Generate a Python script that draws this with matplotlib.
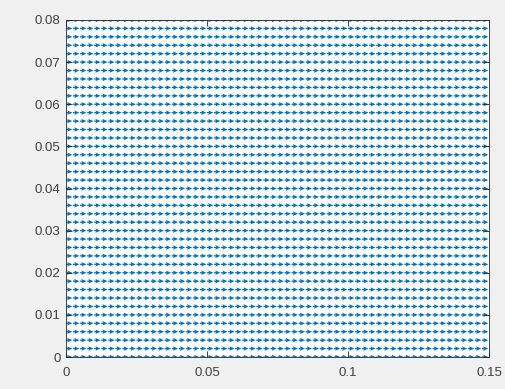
import matplotlib
matplotlib.use("Agg")
import matplotlib.pyplot as plt
import numpy as np

# grid of the vector field (uniform flow in +x)
x_values = np.arange(0, 0.15 + 1e-9, 0.0025)
y_values = np.arange(0, 0.08 + 1e-9, 0.002)
u_value = 1.0
v_value = 0.0

x_ticks = [0, 0.05, 0.1, 0.15]
x_tick_labels = ["0", "0.05", "0.1", "0.15"]
y_ticks = [0, 0.01, 0.02, 0.03, 0.04, 0.05, 0.06, 0.07, 0.08]
y_tick_labels = ["0", "0.01", "0.02", "0.03", "0.04", "0.05", "0.06", "0.07", "0.08"]

plt.rcParams["font.family"] = ["Liberation Sans", "DejaVu Sans"]

X, Y = np.meshgrid(x_values, y_values)
U = np.full_like(X, u_value)
V = np.full_like(Y, v_value)

# scale arrows like matlab autoscale (0.9 of the grid spacing)
dx = x_values[1] - x_values[0]
U_plot = U / np.abs(U).max() * dx * 0.9
V_plot = V * 0

fig = plt.figure(figsize=(5.05, 3.89), dpi=100, facecolor="#f0f0f0")
left, right, top, bottom = 66, 489, 20, 357
ax = fig.add_axes([left / 505, 1 - bottom / 389, (right - left) / 505, (bottom - top) / 389])
ax.set_facecolor("white")

ax.quiver(X, Y, U_plot, V_plot, angles="xy", scale_units="xy", scale=1,
          color="#0072BD", width=0.003, headwidth=3.5, headlength=4,
          headaxislength=3.5, pivot="tail")

ax.set_xlim(0, 0.15)
ax.set_ylim(0, 0.08)
ax.set_xticks(x_ticks)
ax.set_xticklabels(x_tick_labels)
ax.set_yticks(y_ticks)
ax.set_yticklabels(y_tick_labels)

for spine in ax.spines.values():
    spine.set_color("#262626")
    spine.set_linewidth(0.6)
ax.tick_params(direction="in", top=True, right=True, length=4, width=0.6,
               colors="#262626", labelsize=9.5, labelcolor="#404040")
ax.tick_params(axis="x", pad=7)
ax.tick_params(axis="y", pad=4)

fig.savefig("out.png", dpi=100, facecolor=fig.get_facecolor())
